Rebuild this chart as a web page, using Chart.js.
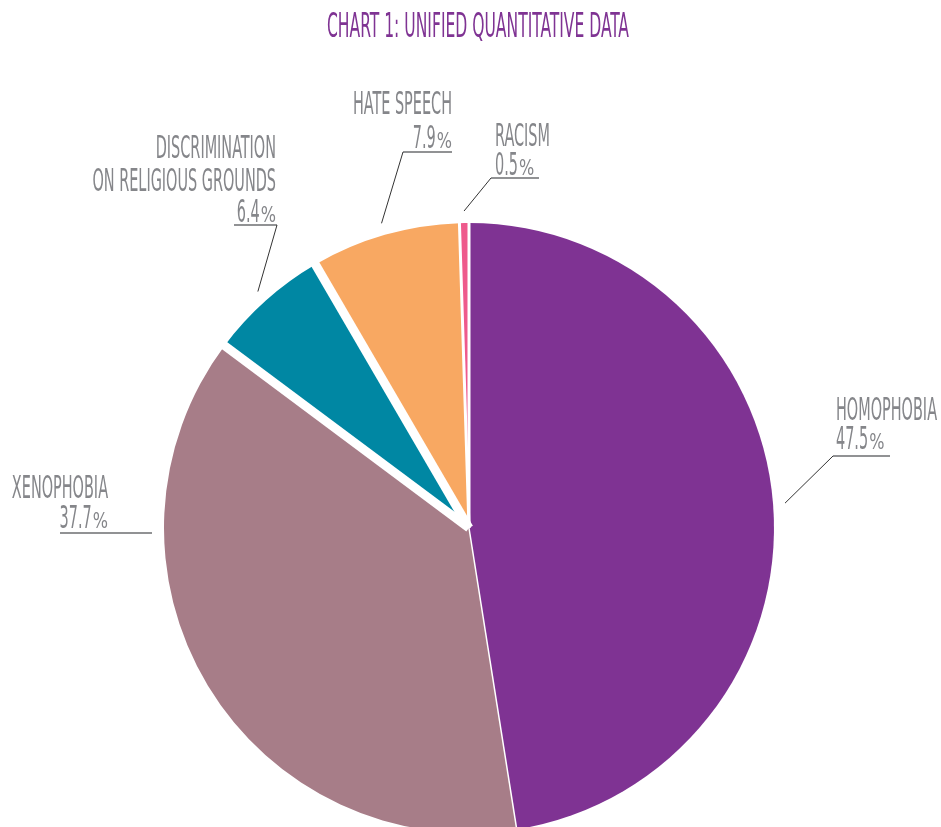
<!DOCTYPE html>
<html>
<head>
<meta charset="utf-8">
<script src="https://cdn.jsdelivr.net/npm/chart.js@4.4.0/dist/chart.umd.min.js"></script>
<style>
html, body { margin: 0; padding: 0; background: #fff; overflow: hidden; }
#wrap { position: relative; width: 941px; height: 860px; }
</style>
</head>
<body>
<div id="wrap"><canvas id="unified_chart"></canvas></div>
<script>
const chart_title = "CHART 1: UNIFIED QUANTITATIVE DATA";
const category_labels = [["HOMOPHOBIA"], ["XENOPHOBIA"], ["DISCRIMINATION", "ON RELIGIOUS GROUNDS"], ["HATE SPEECH"], ["RACISM"]];
const share_values = [47.5, 37.7, 6.4, 7.9, 0.5];
const slice_colours = ["#7f3393", "#a77d88", "#0087a3", "#f8a862", "#ee5a8c"];

// label blocks: text anchor, baselines, underline [x1, x2, y], which end the leader starts from
const label_layout = [
    { x: 836, align: "left", baselines: [420, 449], rule: [833, 890, 456], elbow: "left" },
    { x: 108, align: "right", baselines: [498, 528], rule: [60, 152, 533], elbow: null },
    { x: 276, align: "right", baselines: [158, 191, 222], rule: [234, 277, 225], elbow: "right" },
    { x: 452, align: "right", baselines: [114, 148], rule: [403, 452, 152], elbow: "left" },
    { x: 495, align: "left", baselines: [146, 175], rule: [491, 539, 178], elbow: "left" }
];
// white gap after each slice
const gap_widths = [1.5, 9, 9, 3, 3];

const FONT = '"Liberation Sans Narrow", "DejaVu Sans Condensed", sans-serif';
const TEXT_GREY = "#85868a";

function squeezedText(ctx, text, x, y, align, sx)
{
    const w = ctx.measureText(text).width * sx;
    let left = x;
    if (align === "right") left = x - w;
    if (align === "center") left = x - w / 2;
    ctx.save();
    ctx.translate(left, y);
    ctx.scale(sx, 1);
    ctx.textAlign = "left";
    ctx.fillText(text, 0, 0);
    ctx.restore();
    return w;
}

function percentText(ctx, value, x, y, align, sx)
{
    const num = value.toFixed(1);
    ctx.font = "32px " + FONT;
    const wn = ctx.measureText(num).width * sx;
    ctx.font = "21px " + FONT;
    const wp = ctx.measureText("%").width * 0.85;
    const total = wn + 1 + wp;
    const left = align === "right" ? x - total : x;
    ctx.font = "32px " + FONT;
    squeezedText(ctx, num, left, y, "left", sx);
    ctx.font = "21px " + FONT;
    squeezedText(ctx, "%", left + wn + 1, y, "left", 0.85);
}

const label_plugin =
{
    id: "pieLabels",
    afterDatasetsDraw(chart)
    {
        const ctx = chart.ctx;
        const arcs = chart.getDatasetMeta(0).data;

        ctx.save();

        // gaps between slices
        arcs.forEach((arc, i) =>
        {
            const a = arc.endAngle;
            const r = arc.outerRadius + 4;
            ctx.beginPath();
            ctx.moveTo(arc.x, arc.y);
            ctx.lineTo(arc.x + r * Math.cos(a), arc.y + r * Math.sin(a));
            ctx.strokeStyle = "#ffffff";
            ctx.lineWidth = gap_widths[i];
            ctx.stroke();
        });

        // title
        ctx.fillStyle = "#7f3393";
        ctx.textBaseline = "alphabetic";
        ctx.font = "34px " + FONT;
        const title_sx = 302 / ctx.measureText(chart_title).width;
        squeezedText(ctx, chart_title, 478, 37, "center", title_sx);

        ctx.font = "32px " + FONT;
        const sx = 101 / ctx.measureText("HOMOPHOBIA").width;

        arcs.forEach((arc, i) =>
        {
            const lay = label_layout[i];
            const lines = category_labels[i];

            ctx.fillStyle = TEXT_GREY;
            ctx.font = "32px " + FONT;
            lines.forEach((line, k) =>
            {
                squeezedText(ctx, line, lay.x, lay.baselines[k], lay.align, sx);
            });
            percentText(ctx, share_values[i], lay.x, lay.baselines[lines.length], lay.align, sx);

            // underline
            ctx.beginPath();
            ctx.moveTo(lay.rule[0], lay.rule[2]);
            ctx.lineTo(lay.rule[1], lay.rule[2]);
            ctx.strokeStyle = "#6d6e70";
            ctx.lineWidth = 1.5;
            ctx.stroke();

            // leader to the slice
            if (lay.elbow)
            {
                const mid = (arc.startAngle + arc.endAngle) / 2;
                const r = arc.outerRadius + 12;
                const ex = lay.elbow === "left" ? lay.rule[0] : lay.rule[1];
                ctx.beginPath();
                ctx.moveTo(ex, lay.rule[2]);
                ctx.lineTo(arc.x + r * Math.cos(mid), arc.y + r * Math.sin(mid));
                ctx.strokeStyle = "#333333";
                ctx.lineWidth = 1;
                ctx.stroke();
            }
        });

        ctx.restore();
    }
};

const unified_chart = new Chart("unified_chart",
{
    type: "pie",
    data:
    {
        labels: category_labels,
        datasets:
        [
            {
                data: share_values,
                backgroundColor: slice_colours,
                borderWidth: 0,
                hoverOffset: 0
            }
        ]
    },
    options:
    {
        responsive: true,
        maintainAspectRatio: false,
        animation: false,
        layout:
        {
            padding: { left: 164, right: 167, top: 223, bottom: 27 }
        },
        plugins:
        {
            legend: { display: false },
            title: { display: false },
            tooltip: { enabled: false }
        }
    },
    plugins: [label_plugin]
});
</script>
</body>
</html>
